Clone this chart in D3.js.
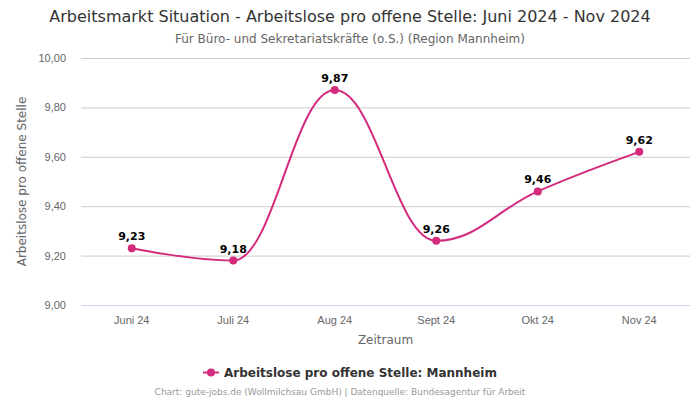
<!DOCTYPE html>
<html><head><meta charset="utf-8">
<script src="https://cdn.jsdelivr.net/npm/d3@7"></script>
<style>body{margin:0;background:#fff}svg{display:block;font-family:"DejaVu Sans",sans-serif}</style>
</head><body><svg id="c" width="700" height="400"></svg>
<script>
const categories = ["Juni 24","Juli 24","Aug 24","Sept 24","Okt 24","Nov 24"];
const values = [9.23, 9.18, 9.87, 9.26, 9.46, 9.62];
const yTicks = [9.0, 9.2, 9.4, 9.6, 9.8, 10.0];
const seriesName = "Arbeitslose pro offene Stelle: Mannheim";
const color = "#d42a7d";

const svg = d3.select("#c");
const L = 81, R = 690, T = 58, B = 305;
const x = d3.scaleBand().domain(categories).range([L, R]);
const y = d3.scaleLinear().domain([9, 10]).range([B, T]);
const fmt = v => d3.format(".2f")(v).replace(".", ",");

svg.append("text").attr("x",350).attr("y",22).attr("text-anchor","middle")
  .attr("fill","#333").attr("font-size",16).text("Arbeitsmarkt Situation - Arbeitslose pro offene Stelle: Juni 2024 - Nov 2024");
svg.append("text").attr("x",350).attr("y",43).attr("text-anchor","middle")
  .attr("fill","#666").attr("font-size",12).text("Für Büro- und Sekretariatskräfte (o.S.) (Region Mannheim)");

// grid
const yAxis = d3.axisLeft(y).tickValues(yTicks).tickSize(-(R-L)).tickFormat(fmt);
const gy = svg.append("g").attr("transform",`translate(${L},0)`).call(yAxis);
gy.select(".domain").remove();
gy.selectAll(".tick line").attr("stroke","#ccc").attr("x1",0).attr("x2",R-L);
gy.selectAll(".tick text").attr("fill","#666").attr("font-size",11).attr("x",-15).attr("dy","0.32em");

const xAxis = d3.axisBottom(x).tickSize(0);
const gx = svg.append("g").attr("transform",`translate(0,${B})`).call(xAxis);
gx.select(".domain").remove();
gx.selectAll(".tick text").attr("fill","#666").attr("font-size",11).attr("dy",0).attr("y",19);
svg.append("line").attr("x1",L).attr("x2",R).attr("y1",B+0.5).attr("y2",B+0.5).attr("stroke","#ccd6eb");

svg.append("text").attr("x",(L+R)/2).attr("y",344).attr("text-anchor","middle")
  .attr("fill","#666").attr("font-size",12).text("Zeitraum");
svg.append("text").attr("transform",`translate(26,${(T+B)/2}) rotate(-90)`).attr("text-anchor","middle")
  .attr("fill","#666").attr("font-size",12).text("Arbeitslose pro offene Stelle");

// Highcharts-like spline
const pts = values.map((v,i)=>({x:x(categories[i])+x.bandwidth()/2, y:y(v)}));
const sm = 1.5, den = sm+1;
const p = d3.path();
pts.forEach((pt,i)=>{
  if(i===0){p.moveTo(pt.x,pt.y);return;}
  const last = pts[i-1], next = pts[i+1];
  let lcx, lcy;
  if(next){
    lcx=(sm*pt.x+last.x)/den; lcy=(sm*pt.y+last.y)/den;
    let rcx=(sm*pt.x+next.x)/den, rcy=(sm*pt.y+next.y)/den;
    let corr=0;
    if(rcx!==lcx) corr=((rcy-lcy)*(rcx-pt.x))/(rcx-lcx)+pt.y-rcy;
    lcy+=corr; rcy+=corr;
    if(lcy>last.y&&lcy>pt.y){lcy=Math.max(last.y,pt.y);rcy=2*pt.y-lcy;}
    else if(lcy<last.y&&lcy<pt.y){lcy=Math.min(last.y,pt.y);rcy=2*pt.y-lcy;}
    if(rcy>next.y&&rcy>pt.y){rcy=Math.max(next.y,pt.y);lcy=2*pt.y-rcy;}
    else if(rcy<next.y&&rcy<pt.y){rcy=Math.min(next.y,pt.y);lcy=2*pt.y-rcy;}
    pt.rcx=rcx; pt.rcy=rcy;
  } else {lcx=pt.x;lcy=pt.y;}
  p.bezierCurveTo(last.rcx??last.x, last.rcy??last.y, lcx, lcy, pt.x, pt.y);
});
svg.append("path").attr("d",p.toString()).attr("fill","none").attr("stroke",color).attr("stroke-width",2);

svg.selectAll("circle.pt").data(values).enter().append("circle")
  .attr("cx",(d,i)=>x(categories[i])+x.bandwidth()/2).attr("cy",d=>y(d)).attr("r",4).attr("fill",color);
svg.selectAll("text.lbl").data(values).enter().append("text")
  .attr("x",(d,i)=>x(categories[i])+x.bandwidth()/2).attr("y",d=>y(d)-8).attr("text-anchor","middle")
  .attr("font-size",11).attr("font-weight","bold").attr("fill","#000")
  .attr("stroke","#fff").attr("stroke-width",2).attr("paint-order","stroke").text(fmt);

// legend
const lg = svg.append("g");
const lt = lg.append("text").attr("x",224).attr("y",377).attr("font-size",12).attr("font-weight","bold").attr("fill","#333").text(seriesName);
lg.append("line").attr("x1",203).attr("x2",219).attr("y1",372.5).attr("y2",372.5).attr("stroke",color).attr("stroke-width",2);
lg.append("circle").attr("cx",211).attr("cy",372.5).attr("r",4).attr("fill",color);

svg.append("text").attr("x",340).attr("y",395).attr("text-anchor","middle").attr("font-size",9).attr("fill","#999")
  .text("Chart: gute-jobs.de (Wollmilchsau GmbH) | Datenquelle: Bundesagentur für Arbeit");
</script></body></html>
